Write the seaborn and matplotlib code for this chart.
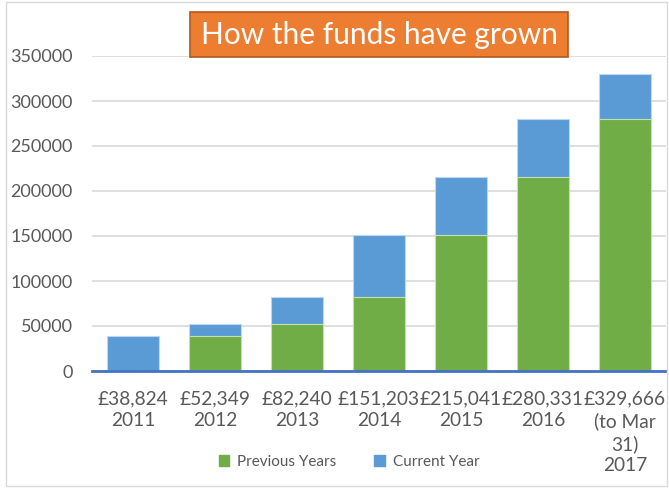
import matplotlib
matplotlib.use("Agg")
import matplotlib.pyplot as plt
import matplotlib.patches as mpatches
import pandas as pd
import seaborn as sns

# Data
years = ["2011", "2012", "2013", "2014", "2015", "2016", "(to Mar\n31)\n2017"]
totals = [38824, 52349, 82240, 151203, 215041, 280331, 329666]
previous_years = [0, 38824, 52349, 82240, 151203, 215041, 280331]

labels = [f"£{t:,}\n{y}" for t, y in zip(totals, years)]

df = pd.DataFrame({
    "label": labels,
    "total": totals,
    "previous": previous_years,
})

GREEN = "#70AD47"
BLUE = "#5B9BD5"
TEXT = "#595959"

sns.set_theme(style="white")
plt.rcParams["font.family"] = ["Lato", "DejaVu Sans"]

fig = plt.figure(figsize=(6.69, 4.88), dpi=100)
ax = fig.add_axes([92 / 669, 1 - 371 / 488, (666 - 92) / 669, (371 - 56) / 488])

# total bar (blue) underneath, previous years (green) on top -> current year shows as blue cap
sns.barplot(data=df, x="label", y="total", color=BLUE, saturation=1, width=0.63,
            edgecolor="#BDD7EE", linewidth=0.8, ax=ax)
sns.barplot(data=df, x="label", y="previous", color=GREEN, saturation=1, width=0.63,
            edgecolor="#C5E0B4", linewidth=0.8, ax=ax)

ax.set_ylim(0, 350000)
ax.set_yticks(range(0, 350001, 50000))
ax.set_xlim(-0.5, len(labels) - 0.5)
ax.yaxis.grid(True, color="#D9D9D9", linewidth=1.2)
ax.set_axisbelow(True)
for side in ["top", "right", "left"]:
    ax.spines[side].set_visible(False)
ax.spines["bottom"].set_color("#4472C4")
ax.spines["bottom"].set_linewidth(2)
ax.set_xlabel("")
ax.set_ylabel("")
ax.tick_params(axis="y", length=0, pad=14, labelsize=13, labelcolor=TEXT)
ax.tick_params(axis="x", length=0, pad=14, labelsize=13.8, labelcolor=TEXT)
for t in ax.get_xticklabels():
    t.set_verticalalignment("top")
    t.set_linespacing(1.32)

# title box
fig.patches.append(mpatches.Rectangle((190 / 669, 1 - 57 / 488), 378 / 669, 45 / 488,
                                      transform=fig.transFigure, facecolor="#ED7D31",
                                      edgecolor="#AE5A21", linewidth=1.2))
fig.text(379 / 669, 1 - 35 / 488, "How the funds have grown", ha="center", va="center",
         fontsize=21.5, color="white")

# legend
handles = [mpatches.Patch(color=GREEN, label="Previous Years"),
           mpatches.Patch(color=BLUE, label="Current Year")]
fig.legend(handles=handles, loc="center", bbox_to_anchor=(349 / 669, 1 - 462 / 488),
           ncol=2, frameon=False, fontsize=11, labelcolor=TEXT,
           handlelength=0.7, handleheight=0.7, columnspacing=2.5, handletextpad=0.5)

# chart border
fig.patches.append(mpatches.Rectangle((6 / 669, 2 / 488), 661 / 669, 484 / 488,
                                      transform=fig.transFigure, fill=False,
                                      edgecolor="#D9D9D9", linewidth=1))

fig.savefig("out.png", dpi=100)
